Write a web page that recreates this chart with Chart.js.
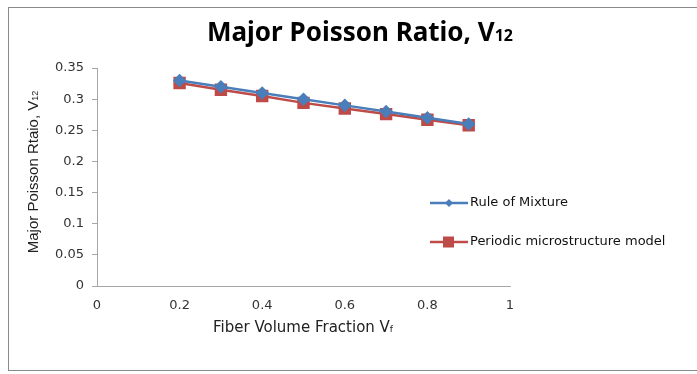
<!DOCTYPE html>
<html>
<head>
<meta charset="utf-8">
<script src="https://cdn.jsdelivr.net/npm/chart.js@4"></script>
<style>
  html, body { margin: 0; padding: 0; background: #fff; overflow: hidden; width: 697px; height: 374px; }
  #frame { position: absolute; left: 8px; top: 7px; width: 720px; height: 362px;
           border: 1px solid #8a8a8a; border-right: none; }
  canvas { position: absolute; left: 0; top: 0; }
</style>
</head>
<body>
<div id="frame"></div>
<canvas id="chart" width="697" height="374"></canvas>
<script>
const fiberFraction = [0.2, 0.3, 0.4, 0.5, 0.6, 0.7, 0.8, 0.9];
const ruleOfMixture = [0.33, 0.32, 0.31, 0.30, 0.29, 0.28, 0.27, 0.26];
const periodicModel = [0.326, 0.315, 0.305, 0.294, 0.285, 0.276, 0.267, 0.258];
const seriesNames = ['Rule of Mixture', 'Periodic microstructure model'];
const xTicks = [0, 0.2, 0.4, 0.6, 0.8, 1];
const yTicks = [0, 0.05, 0.1, 0.15, 0.2, 0.25, 0.3, 0.35];

const tickFont = { family: 'DejaVu Sans', size: 13 };
const axisColor = '#a6a6a6';

// text with a trailing subscript, e.g. V12
function subText(ctx, x, y, main, sub, size, weight, family, align) {
  ctx.font = weight + ' ' + size + 'px ' + family;
  const w1 = ctx.measureText(main).width;
  ctx.font = weight + ' ' + Math.round(size * 0.62) + 'px ' + family;
  const w2 = ctx.measureText(sub).width;
  let start = x;
  if (align === 'center') start = x - (w1 + w2) / 2;
  ctx.textAlign = 'left';
  ctx.textBaseline = 'alphabetic';
  ctx.font = weight + ' ' + size + 'px ' + family;
  ctx.fillText(main, start, y);
  ctx.font = weight + ' ' + Math.round(size * 0.62) + 'px ' + family;
  ctx.fillText(sub, start + w1, y);
}

const decorations = {
  id: 'decorations',
  afterDraw(chart) {
    const ctx = chart.ctx;
    ctx.save();
    ctx.fillStyle = '#000';
    subText(ctx, 360, 41, 'Major Poisson Ratio, V', '12', 26, 'bold', '"Noto Sans"', 'center');

    ctx.fillStyle = '#222';
    subText(ctx, 303, 332, 'Fiber Volume Fraction V', 'f', 15, 'normal', '"DejaVu Sans"', 'center');

    ctx.save();
    ctx.translate(38, 172);
    ctx.rotate(-Math.PI / 2);
    subText(ctx, 0, 0, 'Major Poisson Rtaio, V', '12', 15, 'normal', '"Liberation Sans Narrow", "Liberation Sans"', 'center');
    ctx.restore();

    // legend
    const rows = [203, 242];
    chart.data.datasets.forEach((ds, i) => {
      const y = rows[i];
      ctx.strokeStyle = ds.borderColor;
      ctx.lineWidth = 2.5;
      ctx.beginPath();
      ctx.moveTo(430, y);
      ctx.lineTo(468, y);
      ctx.stroke();
      ctx.fillStyle = ds.pointBackgroundColor;
      if (ds.pointStyle === 'rectRot') {
        ctx.beginPath();
        ctx.moveTo(449, y - 4); ctx.lineTo(453, y); ctx.lineTo(449, y + 4); ctx.lineTo(445, y);
        ctx.closePath();
        ctx.fill();
      } else {
        ctx.fillRect(443, y - 5.5, 11, 11);
      }
      ctx.fillStyle = '#111';
      ctx.font = '13px "DejaVu Sans"';
      ctx.textAlign = 'left';
      ctx.textBaseline = 'middle';
      ctx.fillText(ds.label, 470, y);
    });
    ctx.restore();
  }
};

new Chart(document.getElementById('chart'), {
  type: 'line',
  data: {
    datasets: [
      {
        label: seriesNames[0],
        data: fiberFraction.map((x, i) => ({ x: x, y: ruleOfMixture[i] })),
        borderColor: '#4a7ebb',
        backgroundColor: '#4a7ebb',
        pointBackgroundColor: '#4a7ebb',
        pointBorderColor: '#4a7ebb',
        pointStyle: 'rectRot',
        pointRadius: 5,
        borderWidth: 2.5,
        tension: 0
      },
      {
        label: seriesNames[1],
        data: fiberFraction.map((x, i) => ({ x: x, y: periodicModel[i] })),
        borderColor: '#be4b48',
        backgroundColor: '#be4b48',
        pointBackgroundColor: '#be4b48',
        pointBorderColor: '#be4b48',
        pointStyle: 'rect',
        pointRadius: 7,
        borderWidth: 2.5,
        tension: 0
      }
    ]
  },
  options: {
    responsive: false,
    animation: false,
    events: [],
    layout: { padding: { left: 0, right: 187, top: 68, bottom: 0 } },
    plugins: { legend: { display: false }, title: { display: false }, tooltip: { enabled: false } },
    scales: {
      x: {
        type: 'linear',
        min: 0,
        max: 1,
        afterBuildTicks: s => { s.ticks = xTicks.map(v => ({ value: v })); },
        afterFit: s => { s.height = 88; },
        grid: { display: false, drawOnChartArea: false },
        border: { color: axisColor, width: 1 },
        ticks: { font: tickFont, color: '#333', padding: 4, callback: v => String(v) }
      },
      y: {
        type: 'linear',
        min: 0,
        max: 0.35,
        afterBuildTicks: s => { s.ticks = yTicks.map(v => ({ value: v })); },
        afterFit: s => { s.width = 97; },
        grid: { drawOnChartArea: false, tickLength: 5, color: axisColor },
        border: { color: axisColor, width: 1 },
        ticks: { font: tickFont, color: '#333', padding: 8, callback: v => String(v) }
      }
    }
  },
  plugins: [decorations]
});
</script>
</body>
</html>
